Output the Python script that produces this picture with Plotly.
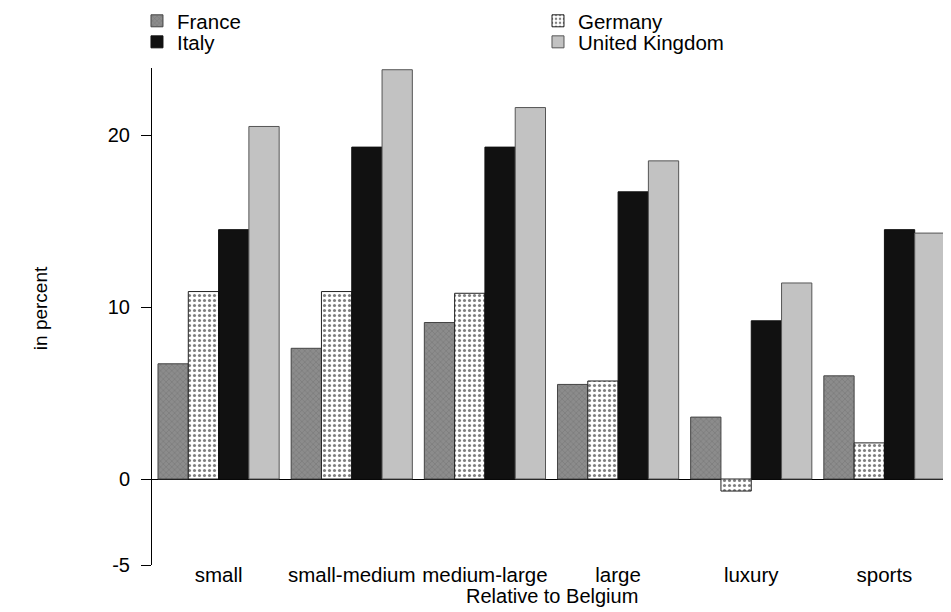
import plotly.graph_objects as go

categories = ["small", "small-medium", "medium-large", "large", "luxury", "sports"]
france = [6.7, 7.6, 9.1, 5.5, 3.6, 6.0]
germany = [10.9, 10.9, 10.8, 5.7, -0.7, 2.1]
italy = [14.5, 19.3, 19.3, 16.7, 9.2, 14.5]
uk = [20.5, 23.8, 21.6, 18.5, 11.4, 14.3]
y_ticks = [-5, 0, 10, 20]
y_tick_text = ["-5", "0", "10", "20"]

FONT = "Liberation Sans, Arial, Helvetica, sans-serif"

fig = go.Figure()
fig.add_trace(go.Bar(
    name="France", x=categories, y=france, legend="legend",
    marker=dict(color="#8c8c8c", line=dict(color="#444", width=1),
                pattern=dict(shape="x", fgcolor="#5e5e5e", bgcolor="#8c8c8c", size=4, solidity=0.25)),
))
fig.add_trace(go.Bar(
    name="Germany", x=categories, y=germany, legend="legend2",
    marker=dict(color="white", line=dict(color="#222", width=1),
                pattern=dict(shape=".", fgcolor="black", bgcolor="white", size=5, solidity=0.3)),
))
fig.add_trace(go.Bar(
    name="Italy", x=categories, y=italy, legend="legend3",
    marker=dict(color="#111111", line=dict(color="#111", width=1)),
))
fig.add_trace(go.Bar(
    name="United Kingdom", x=categories, y=uk, legend="legend4",
    marker=dict(color="#c2c2c2", line=dict(color="#555", width=1)),
))

def leg(x, y):
    return dict(x=x, xanchor="left", y=y, yanchor="middle", orientation="v",
                font=dict(size=20.5), bgcolor="rgba(0,0,0,0)", borderwidth=0)

fig.update_layout(
    width=943, height=604,
    margin=dict(l=144, r=0, t=60, b=47, autoexpand=False),
    paper_bgcolor="white", plot_bgcolor="white",
    font=dict(family=FONT, size=20, color="black"),
    barmode="group", bargap=0.09, bargroupgap=0,
    showlegend=True,
    legend=leg(-0.0188, 1.0946),
    legend2=leg(0.4831, 1.0946),
    legend3=leg(-0.0188, 1.0523),
    legend4=leg(0.4831, 1.0523),
    xaxis=dict(showline=False, showgrid=False, ticks="", ticklen=0, tickfont=dict(size=20.5),
               zeroline=False, automargin=False, anchor="free", position=0.01),
    yaxis=dict(range=[-5, 23.9], tickvals=y_ticks, ticktext=y_tick_text, showline=True,
               linecolor="black", linewidth=1, ticks="outside", ticklen=10, tickcolor="black",
               showgrid=False, zeroline=True, zerolinecolor="black", zerolinewidth=1,
               tickfont=dict(size=20), ticklabelstandoff=7, automargin=False),
    annotations=[
        dict(text="Relative to Belgium", xref="paper", yref="paper", x=0.5, y=-0.062,
             xanchor="center", yanchor="middle", showarrow=False, font=dict(size=20)),
        dict(text="in percent", xref="paper", yref="paper", x=-0.140, y=0.517,
             xanchor="center", yanchor="middle", textangle=-90, showarrow=False,
             font=dict(size=19)),
    ],
)

fig.write_html("out.html")
